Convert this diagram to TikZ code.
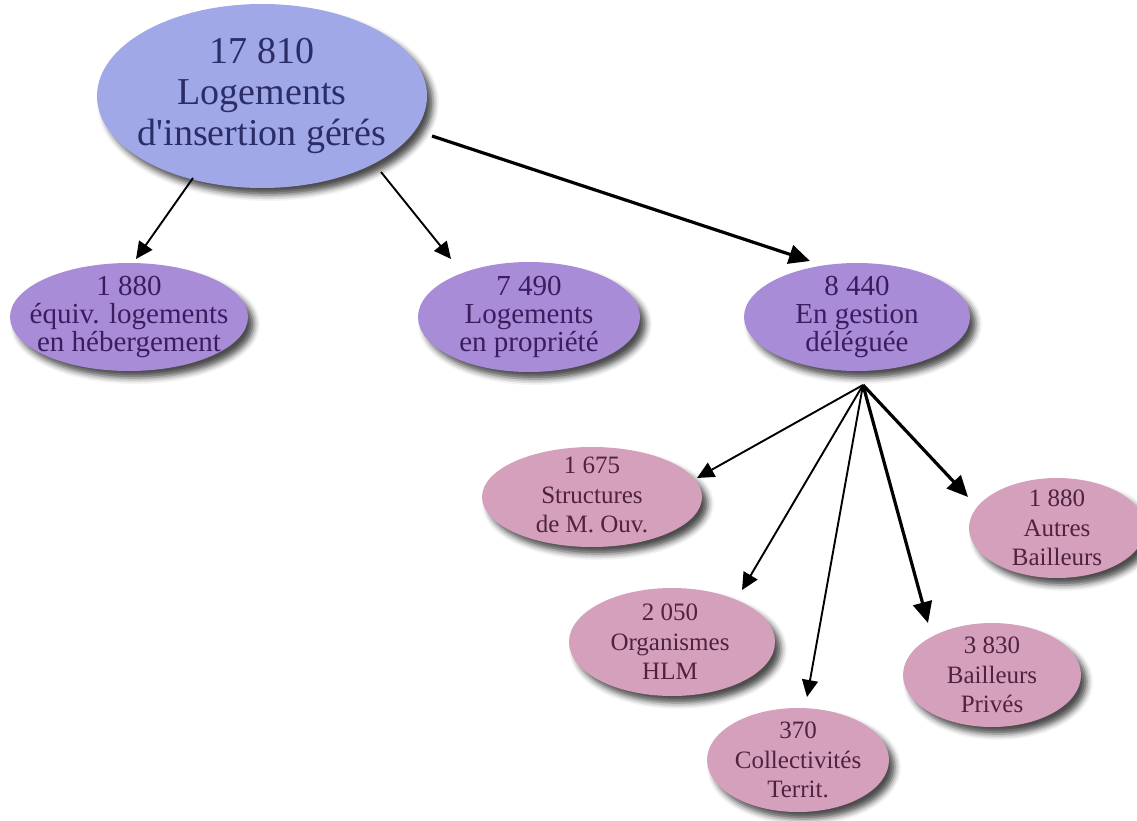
\documentclass[tikz,border=0pt]{standalone}
\usepackage{fontspec}
\setmainfont{Liberation Serif}
\newfontfamily\lib{Liberation Serif}
\usetikzlibrary{arrows.meta,shadows.blur,shapes.geometric,calc}
\definecolor{topfill}{HTML}{A0A8E8}
\definecolor{midfill}{HTML}{A88CD8}
\definecolor{pinkfill}{HTML}{D4A0BC}
\definecolor{toptext}{HTML}{2B2D66}
\definecolor{midtext}{HTML}{3A1D5E}
\definecolor{pinktext}{HTML}{4E2240}
\tikzset{
  ell/.style={ellipse, inner sep=0pt,
    blur shadow={shadow xshift=6pt, shadow yshift=-7pt, shadow blur radius=6pt, shadow opacity=70}},
  topell/.style={ell, fill=topfill},
  midell/.style={ell, fill=midfill},
  pinkell/.style={ell, fill=pinkfill},
  toplbl/.style={align=center, inner sep=0pt, text=toptext, font=\lib\fontsize{38}{41}\selectfont},
  midlbl/.style={align=center, inner sep=0pt, text=midtext, font=\lib\fontsize{29}{28}\selectfont},
  pinklbl/.style={align=center, inner sep=0pt, text=pinktext, font=\lib\fontsize{25}{29.5}\selectfont},
  arrA/.style={draw=black, line width=1.9pt, -{Triangle[length=17pt,width=16pt]}},
  arrB/.style={draw=black, line width=3.2pt, -{Triangle[length=21pt,width=19pt]}},
}
\begin{document}
\begin{tikzpicture}[x=1pt,y=-1pt]
\useasboundingbox (0,0) rectangle (1137,821);
% ellipses
\node[topell, minimum width=330pt, minimum height=184pt] (top) at (262,96) {};
\node[midell, minimum width=238pt, minimum height=108pt] (n1) at (129,317) {};
\node[midell, minimum width=222pt, minimum height=110pt] (n2) at (529,317) {};
\node[midell, minimum width=226pt, minimum height=108pt] (n3) at (857,317) {};
\node[pinkell, minimum width=220pt, minimum height=100pt] (s1) at (592,497) {};
\node[pinkell, minimum width=206pt, minimum height=108pt] (s2) at (672,642) {};
\node[pinkell, minimum width=182pt, minimum height=104pt] (s3) at (798,760) {};
\node[pinkell, minimum width=178pt, minimum height=104pt] (s4) at (992,675) {};
\node[pinkell, minimum width=176pt, minimum height=100pt] (s5) at (1057,528) {};
% labels
\node[toplbl] (topt) at (top) {17 810\\Logements\\d'insertion gérés};
\node[midlbl] (n1t) at (n1) {1 880\\équiv. logements\\en hébergement};
\node[midlbl] (n2t) at (n2) {7 490\\Logements\\en propriété};
\node[midlbl] (n3t) at (n3) {8 440\\En gestion\\déléguée};
\node[pinklbl] (s1t) at ($(s1)+(0,-2)$) {1 675\\Structures\\de M. Ouv.};
\node[pinklbl] (s2t) at ($(s2)+(-2,0)$) {2 050\\Organismes\\HLM};
\node[pinklbl] (s3t) at (s3) {370\\Collectivités\\Territ.};
\node[pinklbl] (s4t) at (s4) {3 830\\Bailleurs\\Privés};
\node[pinklbl] (s5t) at (s5) {1 880\\Autres\\Bailleurs};
% connectors
\coordinate (hub) at ($(n3)+(6,68)$);
\draw[arrA] ($(top)+(-69,82)$) -- ($(n1)+(7,-58)$);
\draw[arrA] ($(top)+(119,76)$) -- ($(n2)+(-78,-58)$);
\draw[arrB] ($(top)+(170,40)$) -- ($(n3)+(-47,-56)$);
\draw[arrA] (hub) -- ($(s1)+(105,-19)$);
\draw[arrA] (hub) -- ($(s2)+(70,-52)$);
\draw[arrA] (hub) -- ($(s3)+(9,-63)$);
\draw[arrB] (hub) -- ($(s4)+(-64,-52)$);
\draw[arrB] (hub) -- ($(s5)+(-89,-31)$);
\end{tikzpicture}
\end{document}
